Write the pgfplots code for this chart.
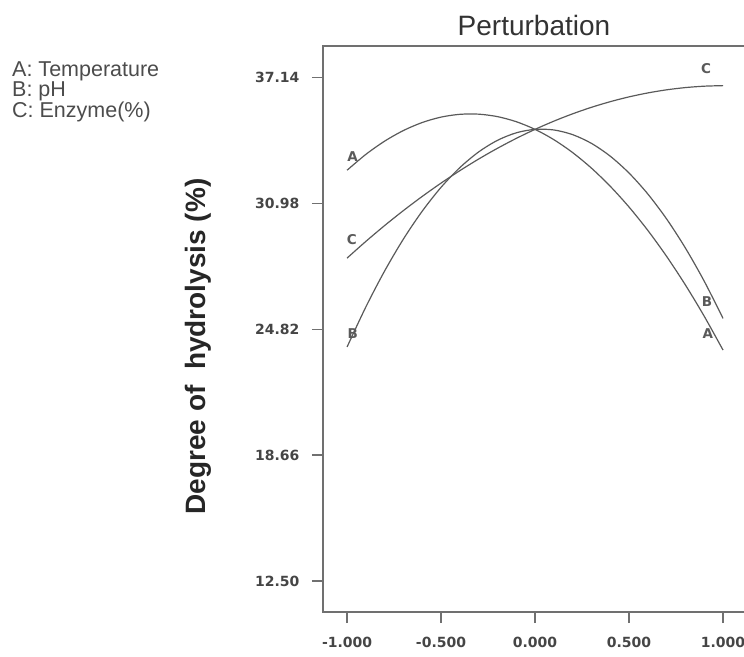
\documentclass[border=0pt]{standalone}
\usepackage{pgfplots}
\pgfplotsset{compat=1.18}
\usepackage{fontspec}
\setmainfont{Liberation Sans}
\newfontfamily\tickfont{DejaVu Sans}

\definecolor{txt}{HTML}{454545}
\definecolor{curve}{HTML}{5A5A5A}
\definecolor{frame}{HTML}{707070}

% Perturbation traces: response vs deviation from reference point (coded units)
\pgfplotstableread{
x     A       B       C
-1.0  32.600  23.950  28.300
-0.9  33.376  25.910  29.117
-0.8  34.024  27.672  29.893
-0.7  34.544  29.235  30.627
-0.6  34.936  30.598  31.319
-0.5  35.200  31.763  31.970
-0.4  35.336  32.728  32.579
-0.3  35.344  33.495  33.147
-0.2  35.224  34.062  33.673
-0.1  34.976  34.431  34.157
 0.0  34.600  34.600  34.600
 0.1  34.096  34.571  35.001
 0.2  33.464  34.342  35.361
 0.3  32.704  33.915  35.679
 0.4  31.816  33.288  35.955
 0.5  30.800  32.463  36.190
 0.6  29.656  31.438  36.383
 0.7  28.384  30.215  36.535
 0.8  26.984  28.792  36.645
 0.9  25.456  27.171  36.713
 1.0  23.800  25.350  36.740
}\pert

\begin{document}
\begin{tikzpicture}
\begin{axis}[
  scale only axis,
  width=422pt, height=566pt,
  xmin=-1.128, xmax=1.117,
  ymin=10.98, ymax=38.68,
  axis line style={frame, line width=1.3pt},
  tick style={frame, line width=1.2pt},
  tick align=outside,
  tick pos=left,
  major tick length=11pt,
  xtick={-1,-0.5,0,0.5,1},
  xticklabels={-1.000,-0.500,0.000,0.500,1.000},
  ytick={12.50,18.66,24.82,30.98,37.14},
  yticklabels={12.50,18.66,24.82,30.98,37.14},
  ticklabel style={font=\tickfont\bfseries\fontsize{14}{16}\selectfont, text=txt},
  xticklabel style={anchor=base, yshift=-24pt},
  yticklabel style={anchor=east, xshift=-9pt},
  title={Perturbation},
  title style={at={(0.5,1)}, anchor=base, yshift=4pt,
    font=\fontsize{28}{32}\selectfont, text=black!80},
  ylabel={Degree of\ \ hydrolysis (\%)},
  every axis y label/.style={at={(axis description cs:-0.2796,0.469)},
    rotate=90, anchor=base,
    font=\bfseries\fontsize{28}{31}\selectfont, text=black!85},
  clip=false,
]
\addplot[curve, line width=1.2pt, smooth] table[x=x, y=A] {\pert};
\addplot[curve, line width=1.2pt, smooth] table[x=x, y=B] {\pert};
\addplot[curve, line width=1.2pt, smooth] table[x=x, y=C] {\pert};

% curve tags at both ends
\begin{scope}[every node/.style={font=\tickfont\bfseries\fontsize{13.5}{15}\selectfont, text=curve}]
\node at (axis cs:-0.97,33.26) {A};
\node at (axis cs:-0.975,29.19) {C};
\node at (axis cs:-0.97,24.63) {B};
\node at (axis cs:0.91,37.56) {C};
\node at (axis cs:0.915,26.15) {B};
\node at (axis cs:0.92,24.63) {A};
\end{scope}
\end{axis}

% factor key
\begin{scope}[every node/.style={anchor=base west, text=black!70,
    font=\fontsize{21.5}{23}\selectfont, inner sep=0pt}]
\node at (-311pt,535pt) {A: Temperature};
\node at (-311pt,515pt) {B: pH};
\node at (-311pt,494pt) {C: Enzyme(\%)};
\end{scope}

\pgfresetboundingbox
\useasboundingbox (-323pt,-44pt) rectangle (421pt,612pt);
\end{tikzpicture}
\end{document}
